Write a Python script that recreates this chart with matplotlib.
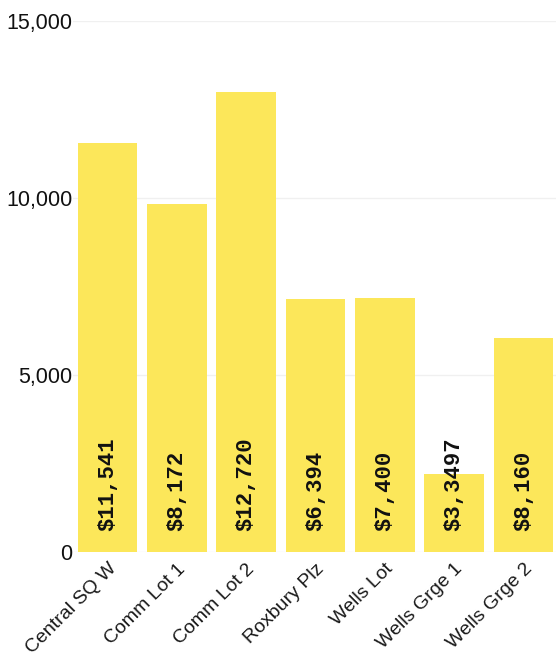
import matplotlib.pyplot as plt

lots = ["Central SQ W", "Comm Lot 1", "Comm Lot 2", "Roxbury Plz",
        "Wells Lot", "Wells Grge 1", "Wells Grge 2"]
counts = [11550, 9830, 12990, 7150, 7170, 2200, 6050]
revenue_labels = ["$11,541", "$8,172", "$12,720", "$6,394",
                  "$7,400", "$3,3497", "$8,160"]
yticks = [0, 5000, 10000, 15000]

fig = plt.figure(figsize=(5.56, 6.56), dpi=100)
ax = fig.add_axes([73 / 556, 104 / 656, 483 / 556, 531 / 656])

x = range(len(lots))
ax.bar(x, counts, width=0.86, color="#fce75a", zorder=2)

for xi, label in zip(x, revenue_labels):
    ax.text(xi, 600, label, rotation=90, ha="center", va="bottom",
            family="Liberation Mono", fontweight="bold", fontsize=16,
            color="#111111", zorder=3)

ax.set_xlim(-0.5, 6.47)
ax.set_ylim(0, 15000)
ax.set_yticks(yticks)
ax.set_yticklabels([f"{v:,}" for v in yticks], family="Liberation Sans",
                   fontsize=15.5, color="#111111")
ax.set_xticks(list(x))
ax.set_xticklabels(lots, rotation=45, ha="right", rotation_mode="anchor",
                   family="Liberation Sans", fontsize=14, color="#1a1a1a")
ax.tick_params(length=0, axis="y", pad=0.5)
ax.tick_params(length=0, axis="x", pad=6)
ax.grid(axis="y", color="#f0f0f0", linewidth=1, zorder=0)
for spine in ax.spines.values():
    spine.set_visible(False)

fig.savefig("out.png", dpi=100)
